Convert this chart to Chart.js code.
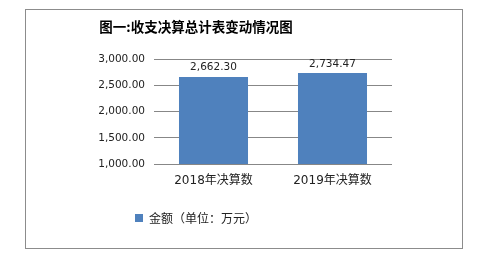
<!DOCTYPE html>
<html>
<head>
<meta charset="utf-8">
<script src="https://cdn.jsdelivr.net/npm/chart.js@4"></script>
<style>
  html, body { margin: 0; padding: 0; background: #fff; }
  #wrap { width: 479px; height: 261px; }
</style>
</head>
<body>
<div id="wrap"><canvas id="chart" width="479" height="261"></canvas></div>
<script>
(function () {
  'use strict';

  var categories = ['2018年决算数', '2019年决算数'];
  var amounts = [2662.30, 2734.47];
  var yTicks = [1000, 1500, 2000, 2500, 3000];
  var seriesName = '金额（单位：万元）';
  var titleText = '图一:收支决算总计表变动情况图';

  var numFont = '"DejaVu Sans", "Noto Sans CJK SC", sans-serif';
  var cjkFont = '"Noto Sans CJK SC", "DejaVu Sans", sans-serif';

  function fmt(v) {
    return Number(v).toLocaleString('en-US', { minimumFractionDigits: 2, maximumFractionDigits: 2 });
  }

  // white page + grey outer frame like the source image
  var frame = {
    id: 'frame',
    beforeDraw: function (chart) {
      var c = chart.ctx;
      c.save();
      c.fillStyle = '#fff';
      c.fillRect(0, 0, chart.width, chart.height);
      c.strokeStyle = '#8c8c8c';
      c.lineWidth = 1;
      c.strokeRect(25.5, 9.5, 437, 239);
      c.restore();
    }
  };

  var valueLabels = {
    id: 'valueLabels',
    afterDatasetsDraw: function (chart) {
      var c = chart.ctx;
      var meta = chart.getDatasetMeta(0);
      c.save();
      c.font = '10.5px ' + numFont;
      c.fillStyle = '#222';
      c.textAlign = 'center';
      c.textBaseline = 'bottom';
      meta.data.forEach(function (bar, i) {
        c.fillText(fmt(amounts[i]), bar.x, bar.y - 4);
      });
      c.restore();
    }
  };

  new Chart(document.getElementById('chart').getContext('2d'), {
    type: 'bar',
    data: {
      labels: categories,
      datasets: [{
        label: seriesName,
        data: amounts,
        backgroundColor: '#4f81bd',
        borderWidth: 0,
        categoryPercentage: 1,
        barPercentage: 0.58
      }]
    },
    plugins: [frame, valueLabels],
    options: {
      responsive: false,
      animation: false,
      layout: { padding: { top: 19, right: 87, bottom: 27, left: 0 } },
      plugins: {
        title: {
          display: true,
          text: titleText,
          color: '#000',
          font: { family: cjkFont, size: 13.5, weight: 'bold' },
          padding: { top: 0, bottom: 24 }
        },
        legend: {
          position: 'bottom',
          labels: {
            color: '#222',
            font: { family: cjkFont, size: 12 },
            boxWidth: 8,
            boxHeight: 8,
            padding: 13.6
          }
        },
        tooltip: { enabled: false }
      },
      scales: {
        x: {
          grid: { display: false, drawTicks: false },
          border: { display: false },
          ticks: {
            color: '#222',
            font: { family: numFont, size: 12 },
            padding: 10
          }
        },
        y: {
          min: 1000,
          max: 3000,
          afterFit: function (scale) { scale.width = 154; },
          afterBuildTicks: function (scale) {
            scale.ticks = yTicks.map(function (v) { return { value: v }; });
          },
          grid: { color: '#878787', drawTicks: false },
          border: { display: false },
          ticks: {
            color: '#222',
            font: { family: numFont, size: 10.5 },
            padding: 9,
            callback: function (v) { return fmt(v); }
          }
        }
      }
    }
  });
})();
</script>
</body>
</html>
